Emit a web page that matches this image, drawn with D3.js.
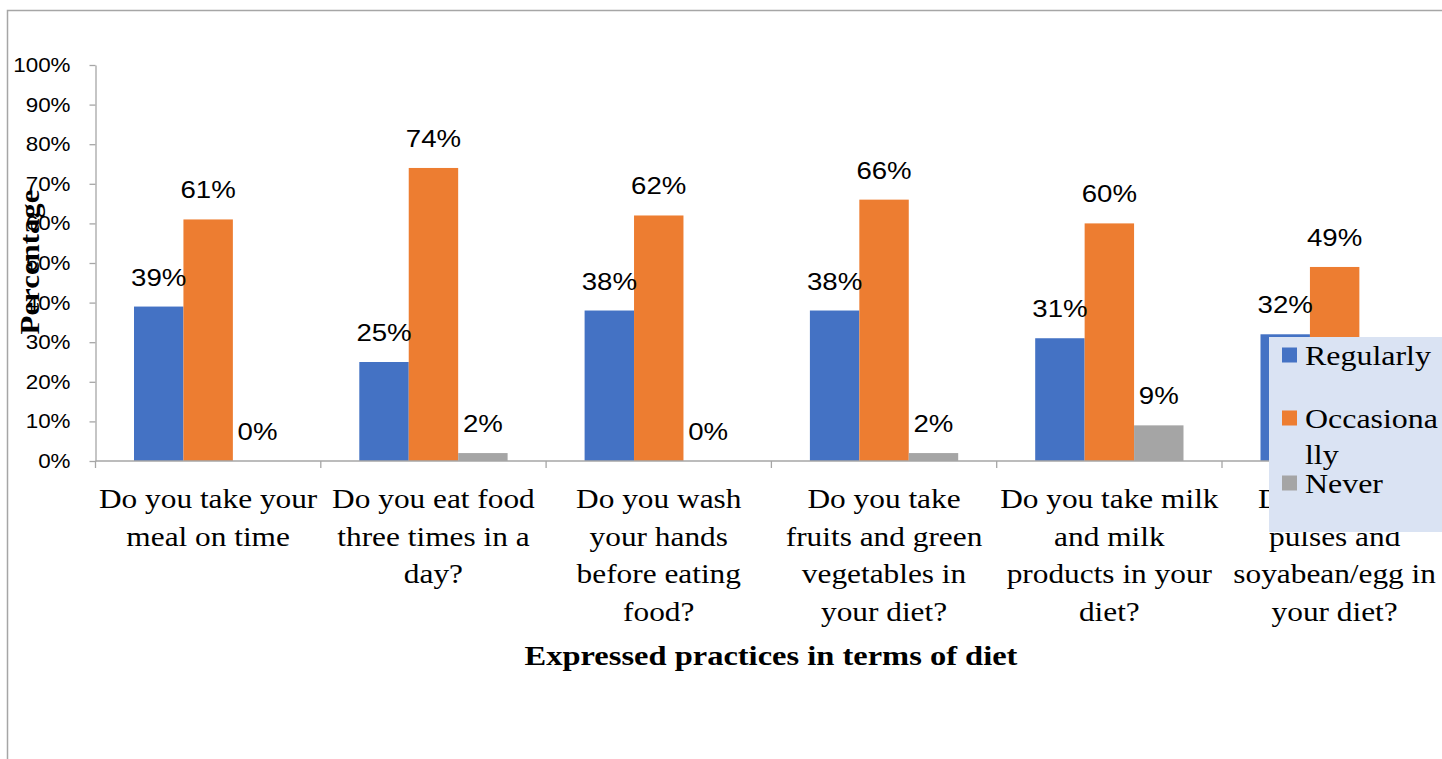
<!DOCTYPE html>
<html>
<head>
<meta charset="utf-8">
<script src="https://cdn.jsdelivr.net/npm/d3@7"></script>
<style>
  html, body { margin: 0; padding: 0; background: #fff; }
  svg { display: block; }
</style>
</head>
<body>
<svg id="chart" width="1442" height="759"></svg>
<script>
const categories = [
  "Do you take your meal on time",
  "Do you eat food three times in a day?",
  "Do you wash your hands before eating food?",
  "Do you take fruits and green vegetables in your diet?",
  "Do you take milk and milk products in your diet?",
  "Do you take pulses and soyabean/egg in your diet?"
];
const categoryLines = [
  ["Do you take your", "meal on time"],
  ["Do you eat food", "three times in a", "day?"],
  ["Do you wash", "your hands", "before eating", "food?"],
  ["Do you take", "fruits and green", "vegetables in", "your diet?"],
  ["Do you take milk", "and milk", "products in your", "diet?"],
  ["Do you take", "pulses and", "soyabean/egg in", "your diet?"]
];
const seriesNames = ["Regularly", "Occasionally", "Never"];
const regularly    = [0.39, 0.25, 0.38, 0.38, 0.31, 0.32];
const occasionally = [0.61, 0.74, 0.62, 0.66, 0.60, 0.49];
const never        = [0.00, 0.02, 0.00, 0.02, 0.09, 0.19];
const yTicks = [0, 0.1, 0.2, 0.3, 0.4, 0.5, 0.6, 0.7, 0.8, 0.9, 1.0];
const colors = ["#4472c4", "#ed7d31", "#a5a5a5"];

const seriesValues = [regularly, occasionally, never];

const svg = d3.select("#chart");
const sans = "'Liberation Sans', Arial, sans-serif";
const serif = "'Liberation Serif', 'Times New Roman', serif";

// widen text horizontally (reference glyphs are stretched)
function stretch(sel, k) {
  sel.each(function() {
    const l = this.getComputedTextLength();
    d3.select(this).attr("textLength", l * k).attr("lengthAdjust", "spacingAndGlyphs");
  });
}

// outer border
svg.append("rect").attr("x", 7.5).attr("y", 10.5).attr("width", 1500).attr("height", 800)
  .attr("fill", "none").attr("stroke", "#a6a6a6").attr("stroke-width", 1.5);

const x0 = d3.scaleBand().domain(categories).range([95.5, 95.5 + 6 * 225.3]).padding(0);
const x1 = d3.scaleBand().domain(seriesNames).range([38.5, x0.bandwidth() - 38.5]).padding(0);
const y = d3.scaleLinear().domain([0, 1]).range([461, 65]);

// y axis
const yAxis = svg.append("g").attr("transform", "translate(95.5,0)")
  .call(d3.axisLeft(y).tickValues(yTicks).tickFormat(d3.format(".0%")).tickSize(6).tickSizeOuter(0).tickPadding(19));
yAxis.select(".domain").attr("stroke", "#a6a6a6").attr("stroke-width", 1.3);
yAxis.selectAll(".tick line").attr("stroke", "#a6a6a6").attr("stroke-width", 1.3);
yAxis.selectAll(".tick text").attr("font-family", sans).attr("font-size", 20).attr("fill", "#000");
stretch(yAxis.selectAll(".tick text"), 1.12);

// bars
const groups = svg.append("g").selectAll("g").data(categories).join("g")
  .attr("transform", d => `translate(${x0(d)},0)`);

groups.each(function(cat, ci) {
  const g = d3.select(this);
  const rows = seriesNames.map((s, si) => ({ s, si, v: seriesValues[si][ci] }));
  g.selectAll("rect").data(rows).join("rect")
    .attr("x", d => x1(d.s))
    .attr("y", d => y(d.v))
    .attr("width", x1.bandwidth())
    .attr("height", d => y(0) - y(d.v))
    .attr("fill", d => colors[d.si]);
  const lbl = g.selectAll("text.lbl").data(rows).join("text").attr("class", "lbl")
    .attr("x", d => x1(d.s) + x1.bandwidth() / 2)
    .attr("y", d => y(d.v) - 21)
    .attr("text-anchor", "middle")
    .attr("font-family", sans).attr("font-size", 24).attr("fill", "#000")
    .text(d => d3.format(".0%")(d.v));
  stretch(lbl, 1.15);
});

// x axis line and ticks
const xAxis = svg.append("g").attr("transform", "translate(0,461)");
xAxis.append("line").attr("x1", 95.5).attr("x2", 1500).attr("y1", 0).attr("y2", 0)
  .attr("stroke", "#a6a6a6").attr("stroke-width", 1.3);
xAxis.selectAll("line.tk").data(categories).join("line").attr("class", "tk")
  .attr("x1", d => x0(d)).attr("x2", d => x0(d)).attr("y1", 0).attr("y2", 7)
  .attr("stroke", "#a6a6a6").attr("stroke-width", 1.3);

// category labels
const catRows = [];
categories.forEach((d, i) => categoryLines[i].forEach((line, li) => catRows.push({ d, line, li })));
const catText = svg.append("g").selectAll("text").data(catRows).join("text")
  .attr("x", r => x0(r.d) + x0.bandwidth() / 2)
  .attr("y", r => 508 + r.li * 37.5)
  .attr("text-anchor", "middle")
  .attr("font-family", serif).attr("font-size", 27).attr("fill", "#000")
  .text(r => r.line);
stretch(catText, 1.16);

// axis titles
const xTitle = svg.append("text").attr("x", 771).attr("y", 665).attr("text-anchor", "middle")
  .attr("font-family", serif).attr("font-weight", "bold").attr("font-size", 28).attr("fill", "#000")
  .text("Expressed practices  in terms of diet");
stretch(xTitle, 1.16);
const yTitle = svg.append("text").attr("transform", "translate(39,262) rotate(-90)").attr("text-anchor", "middle")
  .attr("font-family", serif).attr("font-weight", "bold").attr("font-size", 28).attr("fill", "#000")
  .text("Percentage");
stretch(yTitle, 1.1);

// legend
const leg = svg.append("g");
leg.append("rect").attr("x", 1269).attr("y", 337).attr("width", 200).attr("height", 195).attr("fill", "#dae3f3");
const legItems = [
  { name: seriesNames[0], lines: ["Regularly"], cy: 355 },
  { name: seriesNames[1], lines: ["Occasiona", "lly"], cy: 418 },
  { name: seriesNames[2], lines: ["Never"], cy: 483 }
];
legItems.forEach((it, i) => {
  leg.append("rect").attr("x", 1282).attr("y", it.cy - 7.5).attr("width", 15).attr("height", 15).attr("fill", colors[i]);
  it.lines.forEach((ln, li) => {
    const t = leg.append("text").attr("font-family", serif).attr("font-size", 28).attr("fill", "#000")
      .attr("x", 1305).attr("y", it.cy + 10 + li * 36).text(ln);
    stretch(t, 1.14);
  });
});
</script>
</body>
</html>
